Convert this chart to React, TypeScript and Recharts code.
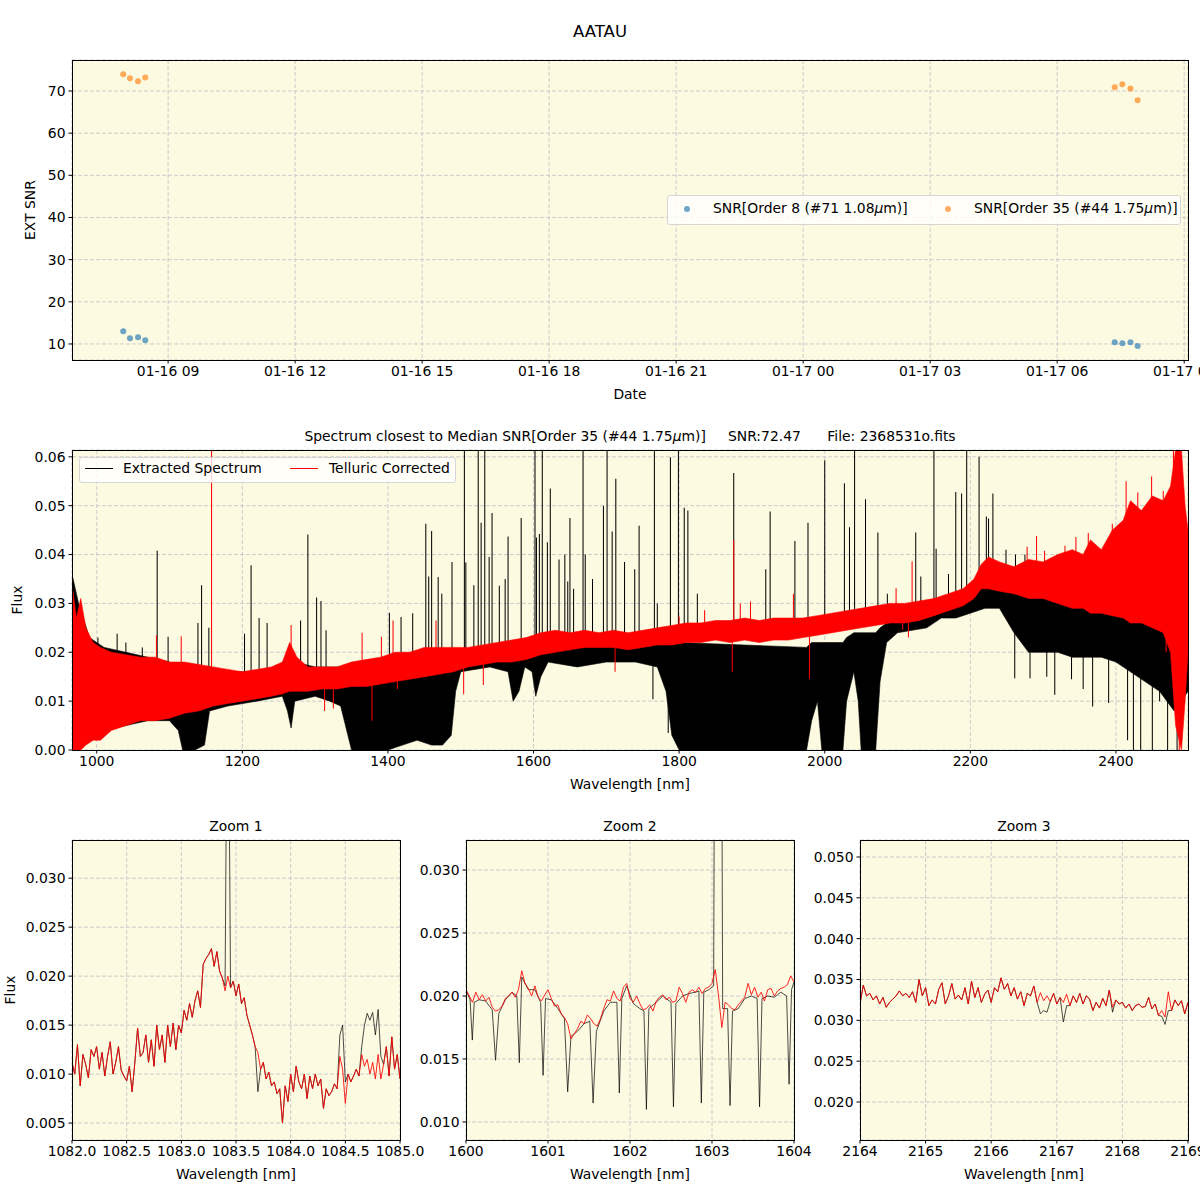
import React from 'react';
import { ComposedChart, Line, Area, Scatter, XAxis, YAxis, CartesianGrid } from 'recharts';

const FONT = '"DejaVu Sans", sans-serif';
const BG = '#fcfae1';
const GRID = '#cccccc';
const BLUE = '#1f77b4';
const ORANGE = '#ff7f0e';

// ---- top panel: SNR per exposure (time in hours since 01-16 00:00)
const obsHours = [7.94, 8.1, 8.29, 8.46, 31.36, 31.54, 31.73, 31.9];
const snrOrder8 = [13.0, 11.35, 11.6, 10.9, 10.4, 10.17, 10.4, 9.5];
const snrOrder35 = [73.96, 73.0, 72.3, 73.2, 70.9, 71.6, 70.6, 67.8];
const dateTicks = [9, 12, 15, 18, 21, 24, 27, 30, 33];
const snrTicks = [10, 20, 30, 40, 50, 60, 70];

// ---- middle panel: full spectrum, drawn as noise envelopes + isolated lines
const specTicks = [1000, 1200, 1400, 1600, 1800, 2000, 2200, 2400];
const fluxTicks = [0, 0.01, 0.02, 0.03, 0.04, 0.05, 0.06];

const blackBandWave = [966, 975, 990, 1010, 1040, 1070, 1100, 1112, 1118, 1135, 1148, 1155, 1180, 1220, 1255, 1262, 1267, 1272, 1300, 1320, 1335, 1345, 1350, 1400, 1420, 1440, 1460, 1475, 1487, 1493, 1500, 1540, 1565, 1572, 1580, 1588, 1598, 1603, 1610, 1620, 1660, 1700, 1740, 1770, 1782, 1790, 1800, 1975, 1982, 1990, 1996, 2025, 2030, 2040, 2046, 2050, 2070, 2076, 2085, 2100, 2140, 2160, 2180, 2200, 2220, 2240, 2260, 2280, 2300, 2320, 2340, 2360, 2380, 2400, 2420, 2440, 2460, 2480, 2499];
const blackBandLo = [0.0, 0.0, 0.002, 0.004, 0.005, 0.006, 0.006, 0.004, 0.0, 0.0, 0.001, 0.008, 0.009, 0.01, 0.011, 0.008, 0.0045, 0.01, 0.011, 0.01, 0.009, 0.003, 0.0, 0.0, 0.001, 0.002, 0.001, 0.001, 0.003, 0.012, 0.016, 0.017, 0.016, 0.01, 0.012, 0.017, 0.016, 0.011, 0.015, 0.018, 0.017, 0.018, 0.018, 0.017, 0.012, 0.003, 0.0, 0.0, 0.006, 0.01, 0.0, 0.0, 0.01, 0.016, 0.01, 0.0, 0.0, 0.014, 0.022, 0.024, 0.025, 0.027, 0.027, 0.028, 0.029, 0.029, 0.024, 0.02, 0.02, 0.02, 0.019, 0.019, 0.019, 0.018, 0.016, 0.014, 0.012, 0.008, 0.012];
const blackBandHi = [0.036, 0.03, 0.023, 0.021, 0.02, 0.019, 0.018, 0.017, 0.015, 0.016, 0.016, 0.017, 0.016, 0.016, 0.017, 0.017, 0.017, 0.018, 0.017, 0.017, 0.017, 0.016, 0.015, 0.016, 0.017, 0.017, 0.018, 0.018, 0.018, 0.019, 0.02, 0.021, 0.021, 0.02, 0.021, 0.022, 0.022, 0.022, 0.022, 0.023, 0.023, 0.023, 0.023, 0.024, 0.023, 0.022, 0.022, 0.021, 0.022, 0.022, 0.022, 0.022, 0.023, 0.024, 0.024, 0.024, 0.024, 0.025, 0.026, 0.028, 0.029, 0.03, 0.031, 0.033, 0.035, 0.034, 0.034, 0.034, 0.034, 0.034, 0.034, 0.034, 0.034, 0.034, 0.034, 0.034, 0.035, 0.036, 0.035];

const redBandWave = [966, 972, 978, 985, 995, 1005, 1020, 1040, 1060, 1080, 1100, 1120, 1140, 1160, 1180, 1200, 1220, 1240, 1255, 1265, 1275, 1290, 1310, 1330, 1350, 1370, 1390, 1410, 1430, 1450, 1470, 1490, 1510, 1530, 1550, 1570, 1590, 1610, 1630, 1650, 1670, 1690, 1710, 1730, 1750, 1770, 1790, 1810, 1830, 1850, 1870, 1890, 1910, 1930, 1950, 1970, 1990, 2010, 2030, 2050, 2070, 2090, 2110, 2130, 2150, 2170, 2190, 2205, 2215, 2225, 2240, 2260, 2280, 2300, 2320, 2340, 2355, 2365, 2380, 2395, 2410, 2420, 2435, 2450, 2465, 2475, 2482, 2490, 2495, 2499];
const redBandLo = [0.0, 0.0, 0.0, 0.001, 0.002, 0.002, 0.004, 0.005, 0.006, 0.006, 0.0065, 0.0075, 0.008, 0.009, 0.0095, 0.01, 0.0105, 0.011, 0.0115, 0.012, 0.012, 0.012, 0.0125, 0.0125, 0.013, 0.013, 0.0135, 0.014, 0.0145, 0.015, 0.0155, 0.016, 0.017, 0.0175, 0.018, 0.018, 0.0185, 0.0195, 0.02, 0.0205, 0.021, 0.021, 0.021, 0.0205, 0.021, 0.0215, 0.0215, 0.022, 0.022, 0.0225, 0.022, 0.0225, 0.022, 0.0225, 0.0225, 0.023, 0.0235, 0.024, 0.0245, 0.025, 0.0255, 0.026, 0.026, 0.0265, 0.0275, 0.0285, 0.0295, 0.031, 0.033, 0.033, 0.0325, 0.032, 0.031, 0.031, 0.03, 0.029, 0.029, 0.028, 0.028, 0.0275, 0.027, 0.026, 0.026, 0.025, 0.024, 0.02, 0.005, 0.0, 0.01, 0.02];
const redBandHi = [0.034, 0.027, 0.031, 0.025, 0.022, 0.021, 0.02, 0.0195, 0.019, 0.019, 0.018, 0.018, 0.0175, 0.017, 0.0165, 0.016, 0.0165, 0.017, 0.018, 0.022, 0.019, 0.017, 0.017, 0.017, 0.018, 0.0185, 0.019, 0.02, 0.02, 0.021, 0.021, 0.021, 0.021, 0.0215, 0.022, 0.0225, 0.023, 0.024, 0.0245, 0.024, 0.0245, 0.024, 0.0245, 0.024, 0.0245, 0.025, 0.0255, 0.026, 0.026, 0.0265, 0.0265, 0.027, 0.0265, 0.027, 0.027, 0.027, 0.0275, 0.028, 0.0285, 0.029, 0.0295, 0.03, 0.03, 0.0305, 0.031, 0.032, 0.033, 0.035, 0.038, 0.0395, 0.0385, 0.0375, 0.039, 0.0385, 0.04, 0.041, 0.04, 0.043, 0.041, 0.045, 0.047, 0.051, 0.049, 0.052, 0.051, 0.054, 0.0615, 0.0615, 0.05, 0.045];

// [wavelength, line peak/trough, local continuum]
const blackSpikes: [number, number, number][] = [
  [966.5, 0.04, 0.015], [1001.6, 0.023, 0.012], [1028, 0.0238, 0.012], [1040, 0.022, 0.012], [1062.6, 0.021, 0.012],
  [1083, 0.0408, 0.013], [1098, 0.0232, 0.012], [1139, 0.026, 0.013], [1144, 0.0337, 0.013], [1154, 0.025, 0.013],
  [1203, 0.0238, 0.013], [1212, 0.0378, 0.013], [1223, 0.027, 0.014], [1234, 0.026, 0.014], [1280, 0.0265, 0.014],
  [1290, 0.0441, 0.014], [1302, 0.0312, 0.014], [1308, 0.0305, 0.015], [1315, 0.0245, 0.015], [1402, 0.0281, 0.016],
  [1418, 0.0272, 0.017], [1434, 0.028, 0.017], [1452, 0.0463, 0.018], [1456, 0.0355, 0.018], [1460, 0.0448, 0.018],
  [1469, 0.0354, 0.018], [1474, 0.032, 0.018], [1488, 0.0385, 0.018], [1505, 0.07, 0.019], [1507, 0.0384, 0.019],
  [1518, 0.0337, 0.019], [1524, 0.07, 0.019], [1528, 0.0465, 0.019], [1533, 0.07, 0.019], [1539, 0.0395, 0.02],
  [1543, 0.0485, 0.02], [1553, 0.0336, 0.02], [1561, 0.035, 0.02], [1565, 0.0437, 0.02], [1583, 0.0475, 0.02],
  [1602, 0.07, 0.021], [1604, 0.0435, 0.021], [1608, 0.0442, 0.021], [1612, 0.07, 0.021], [1619, 0.0425, 0.022],
  [1623, 0.0535, 0.022], [1635, 0.039, 0.022], [1643, 0.04, 0.022], [1647, 0.0345, 0.022], [1650, 0.0475, 0.022],
  [1655, 0.033, 0.022], [1668, 0.07, 0.022], [1671, 0.04, 0.022], [1681, 0.035, 0.022], [1696, 0.05, 0.022],
  [1701, 0.07, 0.022], [1708, 0.0447, 0.022], [1713, 0.0555, 0.022], [1725, 0.0385, 0.022], [1739, 0.037, 0.022],
  [1745, 0.0459, 0.022], [1764, 0.0104, 0.02], [1766, 0.07, 0.023], [1770, 0.03, 0.023], [1785, 0.0035, 0.02],
  [1788, 0.0599, 0.023], [1799, 0.07, 0.023], [1807, 0.0496, 0.023], [1812, 0.049, 0.023], [1825, 0.032, 0.023],
  [1875, 0.0567, 0.023], [1919, 0.037, 0.024], [1925, 0.0488, 0.024], [1959, 0.0428, 0.024], [1977, 0.0465, 0.024],
  [2000, 0.0593, 0.025], [2027, 0.0546, 0.026], [2034, 0.0456, 0.026], [2041, 0.07, 0.026], [2056, 0.0513, 0.026],
  [2073, 0.0445, 0.026], [2086, 0.032, 0.027], [2125, 0.0445, 0.029], [2132, 0.0355, 0.029], [2150, 0.07, 0.029],
  [2153, 0.0412, 0.029], [2170, 0.036, 0.03], [2180, 0.0528, 0.03], [2188, 0.0525, 0.031], [2195, 0.07, 0.031],
  [2212, 0.06, 0.033], [2222, 0.0478, 0.033], [2225, 0.0474, 0.033], [2231, 0.0525, 0.033], [2249, 0.041, 0.033],
  [2261, 0.0147, 0.025], [2262, 0.04, 0.033], [2275, 0.04, 0.033], [2282, 0.0147, 0.025], [2305, 0.015, 0.025],
  [2316, 0.0113, 0.025], [2339, 0.0145, 0.025], [2355, 0.0125, 0.025], [2368, 0.0089, 0.025], [2390, 0.0096, 0.025],
  [2416, 0.002, 0.025], [2424, 0.0, 0.025], [2434, 0.0, 0.025], [2450, 0.0, 0.025], [2460, 0.01, 0.025],
  [2471, 0.0, 0.025], [2484, 0.0, 0.025],
];

const redSpikes: [number, number, number][] = [
  [1082, 0.0235, 0.016], [1116, 0.0233, 0.016], [1157.7, 0.07, 0.014], [1267, 0.0256, 0.018], [1313, 0.008, 0.014],
  [1325, 0.0085, 0.014], [1364.5, 0.024, 0.017], [1378, 0.006, 0.014], [1391, 0.0232, 0.018], [1407, 0.0265, 0.018],
  [1413, 0.0125, 0.016], [1466, 0.0265, 0.019], [1504, 0.0114, 0.019], [1531, 0.0133, 0.019], [1712, 0.016, 0.022],
  [1800, 0.0273, 0.024], [1835, 0.0286, 0.025], [1873, 0.016, 0.023], [1875, 0.043, 0.025], [1884, 0.03, 0.025],
  [1898, 0.0304, 0.025], [1957, 0.032, 0.026], [1979, 0.0146, 0.024], [2098, 0.0331, 0.029], [2107, 0.0246, 0.027],
  [2115, 0.023, 0.027], [2120, 0.0386, 0.029], [2278, 0.0416, 0.036], [2291, 0.0438, 0.036], [2302, 0.0408, 0.036],
  [2330, 0.0418, 0.037], [2345, 0.0436, 0.037], [2362, 0.0444, 0.038], [2395, 0.0463, 0.04], [2414, 0.055, 0.042],
  [2430, 0.0527, 0.045], [2449, 0.056, 0.046], [2465, 0.053, 0.046], [2469, 0.02, 0.03], [2479, 0.07, 0.048],
  [2483, 0.07, 0.048], [2487, 0.0, 0.03], [2491, 0.055, 0.045],
];

// ---- zoom panels
const zoom1Start = 1082;
const zoom1Step = 0.025;
const zoom1Red = [
  0.0112, 0.01, 0.013, 0.0088, 0.012, 0.011, 0.0096, 0.0125, 0.0118, 0.0128,
  0.0105, 0.0122, 0.0098, 0.0118, 0.0133, 0.01, 0.0112, 0.0128, 0.0104, 0.0098,
  0.0093, 0.0108, 0.0082, 0.0112, 0.0147, 0.0118, 0.0122, 0.014, 0.0112, 0.0135,
  0.0108, 0.015, 0.0125, 0.014, 0.0112, 0.015, 0.0128, 0.0152, 0.0125, 0.015,
  0.0142, 0.0165, 0.0155, 0.0172, 0.0158, 0.0175, 0.0185, 0.0168, 0.0212, 0.0218,
  0.0222, 0.0228, 0.021, 0.0225, 0.0205, 0.0198, 0.0185, 0.02, 0.0188, 0.0195,
  0.018, 0.0192, 0.0172, 0.0178, 0.016, 0.015, 0.014, 0.0128, 0.0122, 0.0105,
  0.0112, 0.0095, 0.0102, 0.0088, 0.0092, 0.008, 0.0085, 0.005, 0.0088, 0.0072,
  0.01, 0.0082, 0.0108, 0.0092, 0.0085, 0.01, 0.0075, 0.0098, 0.0085, 0.01,
  0.0088, 0.0095, 0.0065, 0.0085, 0.0078, 0.0082, 0.009, 0.0085, 0.0118, 0.0105,
  0.007, 0.01, 0.0092, 0.0098, 0.0105, 0.0098, 0.012, 0.0108, 0.0115, 0.01,
  0.0112, 0.0095, 0.012, 0.0095, 0.011, 0.0128, 0.0098, 0.0138, 0.0105, 0.012,
  0.0095,
];
const zoom1Black = [
  0.0112, 0.01, 0.013, 0.0088, 0.012, 0.011, 0.0096, 0.0125, 0.0118, 0.0128,
  0.0105, 0.0122, 0.0098, 0.0118, 0.0133, 0.01, 0.0112, 0.0128, 0.0104, 0.0098,
  0.0093, 0.0108, 0.0082, 0.0112, 0.0147, 0.0118, 0.0122, 0.014, 0.0112, 0.0135,
  0.0108, 0.015, 0.0125, 0.014, 0.0112, 0.015, 0.0128, 0.0152, 0.0125, 0.015,
  0.0142, 0.0165, 0.0155, 0.0172, 0.0158, 0.0175, 0.0185, 0.0168, 0.0212, 0.0218,
  0.0222, 0.0228, 0.021, 0.0225, 0.0205, 0.0198, 0.019, 0.06, 0.0188, 0.0195,
  0.018, 0.0192, 0.0172, 0.0178, 0.016, 0.015, 0.014, 0.0128, 0.0082, 0.0105,
  0.0112, 0.0095, 0.0102, 0.0088, 0.0092, 0.008, 0.0085, 0.005, 0.0088, 0.0072,
  0.01, 0.0082, 0.0108, 0.0092, 0.0085, 0.01, 0.0075, 0.0098, 0.0085, 0.01,
  0.0088, 0.0095, 0.0065, 0.0085, 0.0078, 0.0082, 0.009, 0.0085, 0.014, 0.015,
  0.0092, 0.01, 0.0092, 0.0098, 0.0105, 0.0098, 0.0128, 0.015, 0.0162, 0.0155,
  0.0163, 0.014, 0.0166, 0.0118, 0.011, 0.0128, 0.0098, 0.0138, 0.0105, 0.012,
  0.0095,
];
const zoom1XTicks = [1082, 1082.5, 1083, 1083.5, 1084, 1084.5, 1085];
const zoom1YTicks = [0.005, 0.01, 0.015, 0.02, 0.025, 0.03];

const zoom2Start = 1600;
const zoom2Step = 0.04;
const zoom2Red = [
  0.0205, 0.02, 0.0195, 0.0203, 0.0197, 0.0201, 0.0196, 0.0199, 0.0191, 0.0188,
  0.0189, 0.0192, 0.0198, 0.02, 0.0203, 0.0199, 0.0205, 0.022, 0.021, 0.0206,
  0.02, 0.0208, 0.0199, 0.0196, 0.0201, 0.0205, 0.0198, 0.0192, 0.0193, 0.0186,
  0.0183, 0.0178, 0.0166, 0.017, 0.0174, 0.018, 0.0178, 0.0185, 0.0182, 0.0178,
  0.0176, 0.0182, 0.019, 0.0197, 0.0196, 0.0204, 0.0198, 0.0196, 0.0207, 0.021,
  0.0198, 0.0195, 0.02, 0.0194, 0.0189, 0.019, 0.0193, 0.0188, 0.0196, 0.0199,
  0.0201, 0.0197, 0.0199, 0.0195, 0.0196, 0.0207, 0.0202, 0.0195, 0.0203, 0.0205,
  0.0203, 0.0207, 0.0202, 0.0206, 0.0207, 0.021, 0.0221, 0.02, 0.0175, 0.0195,
  0.0193, 0.019, 0.0189, 0.0193, 0.0196, 0.0199, 0.021, 0.0201, 0.0207, 0.0199,
  0.0203, 0.0196, 0.0205, 0.0206, 0.02, 0.0204, 0.0206, 0.0207, 0.0209, 0.0216,
  0.0211,
];
const zoom2Black: [number, number][] = [
  [1600.0, 0.0205], [1600.05, 0.0197], [1600.077, 0.0165], [1600.1, 0.0195], [1600.16, 0.0197], [1600.24, 0.0196],
  [1600.32, 0.0189], [1600.36, 0.0149], [1600.4, 0.0186], [1600.48, 0.0197], [1600.56, 0.0203], [1600.62, 0.02],
  [1600.65, 0.0147], [1600.68, 0.0215], [1600.76, 0.0205], [1600.84, 0.0205], [1600.91, 0.0195], [1600.94, 0.0137],
  [1600.97, 0.0198], [1601.04, 0.0197], [1601.12, 0.019], [1601.2, 0.0182], [1601.24, 0.0124], [1601.28, 0.0168],
  [1601.36, 0.0172], [1601.44, 0.0178], [1601.51, 0.018], [1601.55, 0.0115], [1601.59, 0.0172], [1601.68, 0.0188],
  [1601.76, 0.0195], [1601.84, 0.0195], [1601.87, 0.0123], [1601.9, 0.0198], [1601.96, 0.0208], [1602.04, 0.0194],
  [1602.12, 0.019], [1602.17, 0.0188], [1602.2, 0.011], [1602.23, 0.019], [1602.32, 0.0195], [1602.4, 0.02],
  [1602.5, 0.0195], [1602.53, 0.0112], [1602.56, 0.0194], [1602.64, 0.02], [1602.72, 0.0202], [1602.8, 0.0203],
  [1602.84, 0.0204], [1602.87, 0.0115], [1602.9, 0.0203], [1602.96, 0.0205], [1603.02, 0.0208], [1603.04, 0.06],
  [1603.11, 0.06], [1603.13, 0.019], [1603.19, 0.019], [1603.22, 0.0113], [1603.25, 0.0188], [1603.32, 0.019],
  [1603.4, 0.0198], [1603.48, 0.02], [1603.55, 0.0198], [1603.58, 0.0112], [1603.61, 0.0198], [1603.68, 0.02],
  [1603.76, 0.0199], [1603.84, 0.0203], [1603.91, 0.02], [1603.94, 0.013], [1603.97, 0.0205], [1604.0, 0.0211],
];
const zoom2XTicks = [1600, 1601, 1602, 1603, 1604];
const zoom2YTicks = [0.01, 0.015, 0.02, 0.025, 0.03];

const zoom3Start = 2164;
const zoom3Step = 0.05;
const zoom3Red = [
  0.032, 0.0343, 0.033, 0.0333, 0.0325, 0.033, 0.032, 0.0328, 0.0316, 0.0322,
  0.0326, 0.033, 0.0336, 0.033, 0.0333, 0.0328, 0.0335, 0.0322, 0.035, 0.033,
  0.034, 0.0318, 0.0325, 0.032, 0.0338, 0.0346, 0.032, 0.033, 0.0345, 0.0326,
  0.0331, 0.0325, 0.034, 0.032, 0.0348, 0.0328, 0.034, 0.0322, 0.0332, 0.0337,
  0.0322, 0.034, 0.0335, 0.0352, 0.0338, 0.0345, 0.033, 0.034, 0.0326, 0.0335,
  0.0318, 0.0333, 0.033, 0.0342, 0.0322, 0.0334, 0.0324, 0.033, 0.0323, 0.0333,
  0.032, 0.0328, 0.0322, 0.0332, 0.0318, 0.033, 0.0322, 0.0333, 0.032, 0.033,
  0.0326, 0.0312, 0.0322, 0.0315, 0.0327, 0.0318, 0.0337, 0.0316, 0.0325, 0.032,
  0.0322, 0.0315, 0.032, 0.0312, 0.0318, 0.032, 0.0316, 0.0317, 0.0328, 0.0314,
  0.032, 0.0306, 0.0312, 0.0304, 0.0335, 0.0312, 0.0325, 0.0318, 0.0324, 0.0308,
  0.0322,
];
const zoom3Black = [
  0.032, 0.0343, 0.033, 0.0333, 0.0325, 0.033, 0.032, 0.0328, 0.0316, 0.0322,
  0.0326, 0.033, 0.0336, 0.033, 0.0333, 0.0328, 0.0335, 0.0322, 0.035, 0.033,
  0.034, 0.0318, 0.0325, 0.032, 0.0338, 0.0346, 0.032, 0.033, 0.0345, 0.0326,
  0.0331, 0.0325, 0.034, 0.032, 0.0348, 0.0328, 0.034, 0.0322, 0.0332, 0.0337,
  0.0322, 0.034, 0.0335, 0.0352, 0.0338, 0.0345, 0.033, 0.034, 0.0326, 0.0335,
  0.0318, 0.0333, 0.033, 0.0342, 0.0322, 0.0308, 0.0312, 0.031, 0.0323, 0.0333,
  0.032, 0.0328, 0.0298, 0.0318, 0.0318, 0.033, 0.0322, 0.0333, 0.032, 0.033,
  0.0326, 0.0312, 0.0322, 0.0315, 0.0327, 0.0318, 0.0337, 0.031, 0.0325, 0.032,
  0.0322, 0.0315, 0.032, 0.0312, 0.0318, 0.032, 0.0316, 0.0317, 0.0328, 0.0314,
  0.032, 0.0306, 0.0305, 0.0295, 0.0312, 0.0312, 0.0325, 0.0318, 0.0324, 0.0308,
  0.0322,
];
const zoom3XTicks = [2164, 2165, 2166, 2167, 2168, 2169];
const zoom3YTicks = [0.02, 0.025, 0.03, 0.035, 0.04, 0.045, 0.05];

// ---- helpers
const tick = { fontSize: 13.9, fill: '#000', fontFamily: FONT };

function fmtDate(h: number) {
  const day = 16 + Math.floor(h / 24);
  const hh = h % 24;
  return `01-${day} ${String(hh).padStart(2, '0')}`;
}

function band(wave: number[], lo: number[], hi: number[]) {
  return wave.map((w, i) => ({ w, r: [lo[i], hi[i]] }));
}

// each line becomes a thin bar (range area) so it keeps its layer order with the bands
function spikeBars(list: [number, number, number][], half: number) {
  const out: { w: number; r: number[] }[] = [];
  [...list].sort((a, b) => a[0] - b[0]).forEach(([w, peak, base]) => {
    const lo = Math.min(peak, base);
    const hi = Math.max(peak, base);
    out.push(
      { w: w - half, r: [base, base] },
      { w: w - half, r: [lo, hi] },
      { w: w + half, r: [lo, hi] },
      { w: w + half, r: [base, base] },
    );
  });
  return out;
}

function grid(start: number, step: number, vals: number[]) {
  return vals.map((f, i) => ({ w: +(start + i * step).toFixed(4), f }));
}

function Txt({ x, y, size = 13.9, rotate = false, left = false, children }: any) {
  const tr = left ? 'translate(0, -50%)' : 'translate(-50%, -50%)';
  return (
    <div
      style={{
        position: 'absolute', left: x, top: y, transform: tr + (rotate ? ' rotate(-90deg)' : ''),
        fontSize: size, whiteSpace: 'pre', lineHeight: 1, fontFamily: FONT, color: '#000',
      }}
    >
      {children}
    </div>
  );
}

function Frame({ x, y, w, h }: any) {
  return (
    <div
      style={{
        position: 'absolute', left: x, top: y, width: w, height: h, border: '1px solid #000',
        boxSizing: 'border-box', pointerEvents: 'none',
      }}
    />
  );
}

const Mu = () => <span style={{ fontStyle: 'italic' }}>μ</span>;

function SnrPanel() {
  const d8 = obsHours.map((h, i) => ({ h, snr: snrOrder8[i] }));
  const d35 = obsHours.map((h, i) => ({ h, snr: snrOrder35[i] }));
  const dot = (color: string) => (p: any) => <circle cx={p.cx} cy={p.cy} r={3} fill={color} fillOpacity={0.65} />;
  return (
    <div style={{ position: 'absolute', left: 0, top: 0 }}>
      <ComposedChart width={1200} height={420} margin={{ top: 60, right: 12, bottom: 0, left: 0 }}>
        <CartesianGrid fill={BG} stroke={GRID} strokeDasharray="4 2" />
        <XAxis type="number" dataKey="h" domain={[6.73, 33.09]} ticks={dateTicks} tickFormatter={fmtDate}
          allowDataOverflow interval={0} height={60} tick={tick} tickSize={3.5} tickMargin={3}
          axisLine={false} stroke="#000" />
        <YAxis type="number" dataKey="snr" domain={[6.2, 77.35]} ticks={snrTicks} allowDataOverflow
          interval={0} width={72} tick={tick} tickSize={3.5} tickMargin={3} axisLine={false} stroke="#000" />
        <Scatter data={d8} fill={BLUE} shape={dot(BLUE)} isAnimationActive={false} />
        <Scatter data={d35} fill={ORANGE} shape={dot(ORANGE)} isAnimationActive={false} />
      </ComposedChart>
    </div>
  );
}

function SpectrumPanel() {
  const areaProps = { type: 'linear' as const, dataKey: 'r', dot: false, activeDot: false, isAnimationActive: false, fillOpacity: 1 };
  return (
    <div style={{ position: 'absolute', left: 0, top: 400 }}>
      <ComposedChart width={1200} height={410} margin={{ top: 50, right: 12, bottom: 0, left: 0 }}>
        <CartesianGrid fill={BG} stroke={GRID} strokeDasharray="4 2" />
        <XAxis type="number" dataKey="w" domain={[966, 2499]} ticks={specTicks} allowDataOverflow interval={0}
          height={60} tick={tick} tickSize={3.5} tickMargin={3} axisLine={false} stroke="#000" />
        <YAxis type="number" domain={[0, 0.0614]} ticks={fluxTicks} tickFormatter={(v: number) => v.toFixed(2)}
          allowDataOverflow interval={0} width={72} tick={tick} tickSize={3.5} tickMargin={3} axisLine={false} stroke="#000" />
        <Area {...areaProps} data={band(blackBandWave, blackBandLo, blackBandHi)} stroke="#000" strokeWidth={0.6} fill="#000" />
        <Area {...areaProps} data={spikeBars(blackSpikes, 0.7)} stroke="none" fill="#000" />
        <Area {...areaProps} data={band(redBandWave, redBandLo, redBandHi)} stroke="#ff0000" strokeWidth={0.6} fill="#ff0000" />
        <Area {...areaProps} data={spikeBars(redSpikes, 0.7)} stroke="none" fill="#ff0000" />
      </ComposedChart>
    </div>
  );
}

function ZoomPanel({ left, xDomain, xTicks, xFmt, yDomain, yTicks, red, black }: any) {
  return (
    <div style={{ position: 'absolute', left, top: 800 }}>
      <ComposedChart width={430} height={400} margin={{ top: 40, right: 30, bottom: 0, left: 0 }}>
        <CartesianGrid fill={BG} stroke={GRID} strokeDasharray="4 2" />
        <XAxis type="number" dataKey="w" domain={xDomain} ticks={xTicks} tickFormatter={xFmt} allowDataOverflow
          interval={0} height={60} tick={tick} tickSize={3.5} tickMargin={3} axisLine={false} stroke="#000" />
        <YAxis type="number" domain={yDomain} ticks={yTicks} tickFormatter={(v: number) => v.toFixed(3)}
          allowDataOverflow interval={0} width={72} tick={tick} tickSize={3.5} tickMargin={3} axisLine={false} stroke="#000" />
        <Line data={black} dataKey="f" type="linear" stroke="#000" strokeWidth={0.7} dot={false} activeDot={false}
          isAnimationActive={false} />
        <Line data={red} dataKey="f" type="linear" stroke="#ff0000" strokeOpacity={0.85} strokeWidth={1} dot={false}
          activeDot={false} isAnimationActive={false} />
      </ComposedChart>
    </div>
  );
}

export default function App() {
  const z2Black = zoom2Black.map(([w, f]) => ({ w, f }));
  return (
    <div style={{ position: 'absolute', left: 0, top: 0, width: 1200, height: 1200, overflow: 'hidden', background: '#fff', fontFamily: FONT }}>
      <SnrPanel />
      <SpectrumPanel />
      <ZoomPanel left={0} xDomain={[1082, 1085]} xTicks={zoom1XTicks} xFmt={(v: number) => v.toFixed(1)}
        yDomain={[0.00327, 0.0339]} yTicks={zoom1YTicks}
        red={grid(zoom1Start, zoom1Step, zoom1Red)} black={grid(zoom1Start, zoom1Step, zoom1Black)} />
      <ZoomPanel left={394} xDomain={[1600, 1604]} xTicks={zoom2XTicks} xFmt={(v: number) => String(v)}
        yDomain={[0.00857, 0.03238]} yTicks={zoom2YTicks}
        red={grid(zoom2Start, zoom2Step, zoom2Red)} black={z2Black} />
      <ZoomPanel left={788} xDomain={[2164, 2169]} xTicks={zoom3XTicks} xFmt={(v: number) => String(v)}
        yDomain={[0.01535, 0.05208]} yTicks={zoom3YTicks}
        red={grid(zoom3Start, zoom3Step, zoom3Red)} black={grid(zoom3Start, zoom3Step, zoom3Black)} />

      <Frame x={72} y={60} w={1117} h={301} />
      <Frame x={72} y={450} w={1117} h={301} />
      <Frame x={72} y={840} w={329} h={301} />
      <Frame x={466} y={840} w={329} h={301} />
      <Frame x={860} y={840} w={329} h={301} />

      <Txt x={600} y={32} size={16.5}>AATAU</Txt>
      <Txt x={31} y={210} rotate>EXT SNR</Txt>
      <Txt x={630} y={395}>Date</Txt>

      <div style={{ position: 'absolute', left: 667, top: 195, width: 514, height: 30, border: '1px solid #d6d6d6', borderRadius: 3, background: 'rgba(255,255,255,0.8)', boxSizing: 'border-box' }} />
      <div style={{ position: 'absolute', left: 684, top: 206, width: 6, height: 6, borderRadius: 3, background: BLUE, opacity: 0.65 }} />
      <Txt x={713} y={209} left>SNR[Order 8 (#71 1.08<Mu />m)]</Txt>
      <div style={{ position: 'absolute', left: 945, top: 206, width: 6, height: 6, borderRadius: 3, background: ORANGE, opacity: 0.65 }} />
      <Txt x={974} y={209} left>SNR[Order 35 (#44 1.75<Mu />m)]</Txt>

      <Txt x={630} y={437} size={13.9}>Spectrum closest to Median SNR[Order 35 (#44 1.75<Mu />m)]     SNR:72.47      File: 2368531o.fits</Txt>
      <Txt x={18} y={600} rotate>Flux</Txt>
      <Txt x={630} y={785}>Wavelength [nm]</Txt>

      <div style={{ position: 'absolute', left: 79, top: 457, width: 377, height: 26, border: '1px solid #d6d6d6', borderRadius: 3, background: 'rgba(255,255,255,0.8)', boxSizing: 'border-box' }} />
      <div style={{ position: 'absolute', left: 85, top: 468, width: 28, height: 1, background: '#000' }} />
      <Txt x={123} y={469} left>Extracted Spectrum</Txt>
      <div style={{ position: 'absolute', left: 290, top: 468, width: 28, height: 1, background: '#ff0000' }} />
      <Txt x={329} y={469} left>Telluric Corrected</Txt>

      <Txt x={236} y={827}>Zoom 1</Txt>
      <Txt x={630} y={827}>Zoom 2</Txt>
      <Txt x={1024} y={827}>Zoom 3</Txt>
      <Txt x={236} y={1175}>Wavelength [nm]</Txt>
      <Txt x={630} y={1175}>Wavelength [nm]</Txt>
      <Txt x={1024} y={1175}>Wavelength [nm]</Txt>
      <Txt x={11} y={990} rotate>Flux</Txt>
    </div>
  );
}
